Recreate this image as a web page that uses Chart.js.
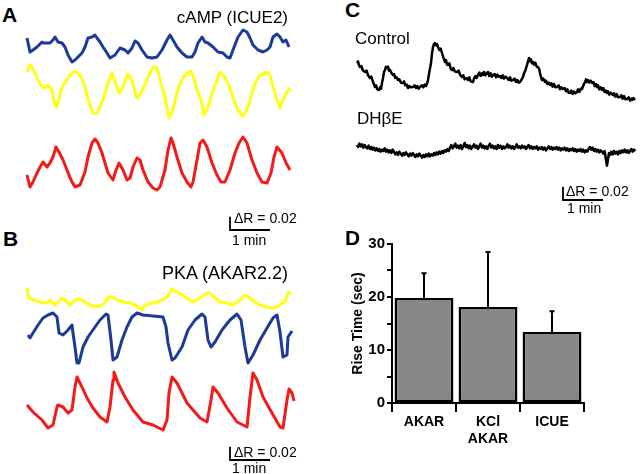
<!DOCTYPE html>
<html>
<head>
<meta charset="utf-8">
<script src="https://cdn.jsdelivr.net/npm/chart.js@4.4.1/dist/chart.umd.min.js"></script>
<style>
  html, body { margin: 0; padding: 0; background: #fff; }
  #fig { position: relative; width: 640px; height: 474px; overflow: hidden; background: #fff;
         font-family: 'Liberation Sans', Arial, Helvetica, sans-serif; color: #000; }
  #fig canvas { position: absolute; }
  .lbl { position: absolute; line-height: 1; white-space: nowrap; }
  .panel { font-size: 21px; font-weight: bold; }
  .name { font-size: 17px; }
  .bar { font-size: 14px; }
</style>
</head>
<body>
<div id="fig">
  <canvas id="panelA" width="280" height="220" style="left:20px;top:20px"></canvas>
  <canvas id="panelB" width="280" height="204" style="left:20px;top:270px"></canvas>
  <canvas id="panelC" width="290" height="170" style="left:350px;top:40px"></canvas>
  <canvas id="panelD" width="270" height="230" style="left:340px;top:228px"></canvas>

  <div class="lbl panel" style="left:2px;top:4px">A</div>
  <div class="lbl panel" style="left:3px;top:228px">B</div>
  <div class="lbl panel" style="left:345px;top:-1px">C</div>
  <div class="lbl panel" style="left:345px;top:227px">D</div>

  <div class="lbl name" style="right:352px;top:9px">cAMP (ICUE2)</div>
  <div class="lbl name" style="right:352px;top:264px;font-size:18px">PKA (AKAR2.2)</div>
  <div class="lbl name" style="left:355px;top:30px">Control</div>
  <div class="lbl name" style="left:357px;top:110px">DHβE</div>

  <div class="lbl bar" style="left:234px;top:211px">ΔR = 0.02</div>
  <div class="lbl bar" style="left:232px;top:233px">1 min</div>
  <div class="lbl bar" style="left:234px;top:445px">ΔR = 0.02</div>
  <div class="lbl bar" style="left:232px;top:461px">1 min</div>
  <div class="lbl bar" style="left:566px;top:184px">ΔR = 0.02</div>
  <div class="lbl bar" style="left:567px;top:201px">1 min</div>
</div>

<script>
// traces: [time (s), ΔR x 1000], each relative to its own lowest point
const camBlue = [[10.5,37.5],[15,16.5],[19.5,19.5],[25.5,24],[33,31.5],[34.5,30],[40.5,30],[45,30],[49.5,34.5],[52.5,39],[57,31.5],[63,30],[67.5,24],[72,12],[78,1.5],[82.5,4.5],[87,9],[93,15],[97.5,24],[102,37.5],[108,39],[112.5,42],[115.5,37.5],[120,31.5],[124.5,24],[130.5,15],[135,7.5],[142.5,12],[150,22.5],[157.5,19.5],[162,15],[168,22.5],[172.5,33],[177,30],[183,19.5],[190.5,9],[198,7.5],[205.5,9],[213,19.5],[220.5,34.5],[225,42],[229.5,34.5],[235.5,24],[243,15],[250.5,9],[258,9],[262.5,16.5],[267,30],[273,39],[277.5,31.5],[282,30],[289.5,24],[297,16.5],[304.5,15],[310.5,9],[315,7.5],[319.5,19.5],[327,39],[334.5,49.5],[340.5,46.5],[345,37.5],[349.5,27],[357,19.5],[364.5,16.5],[370.5,19.5],[375,24],[379.5,39],[385.5,43.5],[390,39],[394.5,31.5],[399,34.5],[403.5,24]];
const camYellow = [[10.5,70.5],[15,81],[18,78],[22.5,69],[27,58.5],[33,48],[37.5,46.5],[42,51],[48,43.5],[52.5,21],[55.5,18],[60,36],[64.5,51],[70.5,58.5],[75,66],[81,70.5],[85.5,70.5],[91.5,63],[97.5,48],[102,28.5],[109.5,9],[115.5,9],[120,18],[126,33],[132,54],[138,69],[141,61.5],[145.5,46.5],[148.5,39],[154.5,48],[159,61.5],[162,67.5],[168,58.5],[172.5,39],[175.5,31.5],[181.5,39],[187.5,51],[193.5,66],[199.5,78],[205.5,76.5],[210,58.5],[217.5,33],[223.5,1.5],[229.5,13.5],[234,33],[240,54],[247.5,66],[255,72],[259.5,66],[265.5,43.5],[273,24],[276,6],[280.5,13.5],[286.5,33],[292.5,51],[300,70.5],[304.5,66],[312,54],[319.5,33],[327,13.5],[334.5,4.5],[340.5,13.5],[346.5,33],[352.5,54],[360,66],[370.5,70.5],[375,66],[379.5,48],[385.5,28.5],[390,16.5],[394.5,28.5],[400.5,40.5],[405,46.5]];
const camRed = [[10.5,22.5],[15,4.5],[19.5,12],[25.5,25.5],[30,34.5],[34.5,42],[40.5,34.5],[45,40.5],[49.5,49.5],[54,64.5],[58.5,57],[64.5,45],[70.5,30],[76.5,15],[82.5,4.5],[90,7.5],[97.5,27],[102,49.5],[108,70.5],[112.5,76.5],[117,70.5],[123,55.5],[127.5,40.5],[132,25.5],[139.5,15],[144,30],[148.5,40.5],[154.5,30],[160.5,15],[165,18],[169.5,34.5],[175.5,48],[180,45],[184.5,30],[192,12],[199.5,3],[205.5,0],[210,4.5],[217.5,30],[222,60],[226.5,78],[229.5,70.5],[235.5,49.5],[243,25.5],[250.5,12],[256.5,4.5],[259.5,12],[265.5,45],[270,70.5],[274.5,75],[280.5,64.5],[288,40.5],[295.5,22.5],[301.5,12],[307.5,12],[315,30],[322.5,55.5],[328.5,70.5],[334.5,79.5],[340.5,70.5],[348,45],[355.5,25.5],[363,12],[370.5,10.5],[376.5,25.5],[381,49.5],[385.5,64.5],[393,55.5],[399,40.5],[405,30]];

const pkaYellow = [[10.5,33],[12,19.5],[19.5,15],[30,12],[40.5,10.5],[45,15],[52.5,7.5],[57,12],[63,18],[70.5,12],[75,7.5],[82.5,15],[90,16.5],[97.5,12],[105,7.5],[112.5,4.5],[120,6],[127.5,10.5],[132,19.5],[138,19.5],[145.5,15],[154.5,12],[165,10.5],[175.5,6],[183,0],[187.5,7.5],[198,10.5],[205.5,12],[213,15],[220.5,19.5],[228,31.5],[235.5,27],[243,22.5],[250.5,18],[259.5,12],[270,18],[280.5,25.5],[285,25.5],[292.5,18],[300,12],[310.5,10.5],[319.5,7.5],[330,15],[337.5,22.5],[345,18],[352.5,12],[360,7.5],[370.5,4.5],[378,3],[385.5,4.5],[393,10.5],[397.5,12],[402,25.5],[406.5,27]];
const pkaBlue = [[12,42],[15,37.5],[19.5,45],[27,57],[34.5,67.5],[42,72],[49.5,75],[55.5,69],[58.5,45],[64.5,42],[72,49.5],[78,57],[79.5,45],[82.5,24],[85.5,0],[88.5,0],[94.5,24],[102,39],[112.5,54],[120,64.5],[129,73.5],[132,72],[136.5,34.5],[139.5,4.5],[145.5,9],[153,34.5],[160.5,54],[168,69],[175.5,75],[184.5,72],[199.5,70.5],[214.5,69],[219,54],[222,30],[228,4.5],[232.5,7.5],[243,24],[252,49.5],[262.5,64.5],[273,73.5],[277.5,69],[282,34.5],[286.5,24],[292.5,31.5],[303,49.5],[315,64.5],[325.5,73.5],[331.5,64.5],[337.5,24],[342,0],[349.5,12],[360,34.5],[370.5,52.5],[379.5,67.5],[385.5,72],[390,46.5],[394.5,9],[400.5,12],[402,39],[408,48]];
const pkaRed = [[10.5,37.5],[19.5,27],[33,15],[42,3],[49.5,7.5],[55.5,34.5],[57,37.5],[64.5,34.5],[72,25.5],[78,30],[82.5,64.5],[85.5,79.5],[93,64.5],[100.5,48],[109.5,33],[120,19.5],[130.5,12],[135,34.5],[139.5,75],[141,87],[147,70.5],[157.5,49.5],[169.5,30],[184.5,12],[199.5,7.5],[214.5,0],[220.5,15],[223.5,55.5],[228,79.5],[235.5,70.5],[250.5,40.5],[270,18],[280.5,12],[286.5,45],[289.5,64.5],[297,55.5],[310.5,33],[325.5,12],[340.5,4.5],[345,49.5],[349.5,85.5],[355.5,75],[364.5,49.5],[378,25.5],[390,4.5],[394.5,3],[400.5,45],[403.5,61.5],[408,55.5],[411,43.5]];

const ctrlTrace = [[10.5,55.5],[12,58],[13.5,52],[15,49.5],[17,51],[19,45],[22.5,42],[25,44],[27,37],[30,33],[32,35],[34.5,27],[37.5,19.5],[39,22],[41,16],[43.5,15],[45,19],[46.5,17],[48,25.5],[49.5,33],[51,42],[52.5,45],[54,50],[55.5,48],[57,50],[58.5,44],[60,45],[62,41],[64.5,37.5],[66,39],[68,33],[70,34],[72,30],[74,31],[76.5,26],[79.5,25.5],[81,28],[83,22],[85,23],[87,18],[89,21],[91,19],[94.5,19.5],[97,22],[99,18],[101,21],[103,17],[105,19.5],[108,22],[110,19],[112,23],[114,21],[116,26],[117,30],[119,42],[121.5,55.5],[123,70],[124.5,79.5],[126,84],[127.5,85.5],[129,82],[130.5,84],[132,79.5],[134,75],[136,77],[138,70.5],[140,64],[142.5,57],[144,60],[145.5,53],[147,52.5],[149,55],[151,47],[153,45],[155,48],[157,43],[160.5,42],[163,44],[165,38],[168,34.5],[170,37],[172,31],[175,33],[177,30],[179,34],[181,28],[184.5,27],[186,32],[188,36],[190,33],[192,37.5],[194,41],[196,36],[198,40],[199.5,37.5],[201,42],[203,37],[205,40],[207,42],[209,36],[211,40],[213,35],[214.5,37.5],[217,39],[219,34],[221,38],[223,35],[225,36],[227,33],[229,37],[231,32],[233,35],[235.5,33],[238,30],[240,34],[242,29],[244.5,30],[247,32],[249,27],[251,30],[253,26],[255,27],[257,30],[259.5,34.5],[261,40],[263,44],[265.5,52.5],[267,58],[268.5,63],[270,58],[271.5,61],[273,55],[274.5,57],[276,53],[278,56],[280,50],[282,49.5],[284,46],[285,40],[286.5,34.5],[288,30],[290,32],[292.5,27],[294,29],[296,24],[298,26],[300,22.5],[302,25],[304,20],[306,24],[308,19],[310.5,19.5],[313,22],[315,16],[317,19],[319.5,16.5],[322,18],[324,13],[326,16],[328,11],[330,10.5],[332,14],[334,9],[336,13],[338,10],[340.5,12],[342,16],[344,12],[346,17],[348,16.5],[350,22],[352.5,27],[354,31],[355.5,27],[357,30],[359,26],[361,29],[363,25.5],[365,27],[367,21],[369,24],[370.5,19.5],[372,22],[374,16],[376,19],[378,15],[380,18],[382,12],[384,14],[385.5,10.5],[387,13],[389,8],[391,11],[394.5,7.5],[396,10],[398,5],[400,9],[402,4],[405,4.5],[407,7],[409,2],[411,6],[413,1],[415.5,1.5],[418,4],[420,-1],[422,2],[423,0],[425,3],[427.5,0]];
const dhbeTrace = [[10.5,33],[12,30],[14,35],[16,31],[18,34],[20,29],[22,33],[24,30],[26,28],[28,32],[30,27],[32,30],[34,26],[36,29],[38,25],[40,28],[42,24],[44,27],[46,23],[48,26],[50,24],[52,28],[54,23],[56,26],[58,22],[60,25],[62,21],[64,26],[66,23],[68,19],[70,22],[72,18],[74,23],[76,20],[78,17],[80,21],[82,18],[84,22],[86,19],[88,16],[90,20],[92,17],[94,21],[96,18],[98,15],[100,19],[102,16],[104,20],[106,17],[108,14],[110,18],[112,15],[114,19],[116,16],[118,20],[120,16],[122,19],[124,17],[126,21],[128,18],[130,22],[132,19],[134,23],[136,20],[138,24],[140,21],[142,25],[144,23],[146,27],[148,24],[150,29],[152,33],[154,28],[156,31],[158,35],[160,29],[162,32],[164,28],[166,33],[168,27],[170,31],[172,36],[174,30],[176,33],[178,28],[180,32],[182,27],[184,31],[186,34],[188,29],[190,32],[192,27],[194,31],[196,35],[198,29],[200,32],[202,28],[204,31],[206,27],[208,32],[210,35],[212,29],[214,32],[216,28],[218,31],[220,27],[222,33],[224,29],[226,32],[228,27],[230,31],[232,28],[234,30],[236,34],[238,29],[240,32],[242,28],[244,31],[246,27],[248,30],[250,34],[252,29],[254,31],[256,28],[258,32],[260,29],[262,31],[264,27],[266,30],[268,33],[270,28],[272,31],[274,27],[276,30],[278,28],[280,31],[282,26],[284,29],[286,27],[288,30],[290,26],[292,29],[294,25],[296,28],[298,31],[300,27],[302,30],[304,26],[306,29],[308,27],[310,30],[312,26],[314,29],[316,25],[318,28],[320,26],[322,29],[324,25],[326,28],[328,24],[330,27],[332,25],[334,28],[336,24],[338,27],[340,23],[342,26],[344,24],[346,27],[348,23],[350,26],[352,22],[354,25],[356,23],[358,27],[360,30],[362,26],[364,29],[366,24],[368,27],[370,23],[372,26],[374,22],[376,25],[378,23],[380,20],[382,24],[384,10],[385.5,2],[387,12],[388.5,21],[390,18],[392,23],[394,19],[396,24],[398,20],[400,23],[402,19],[404,24],[406,21],[408,25],[410,22],[412,26],[414,22],[416,25],[418,21],[420,24],[422,27],[424,23],[426,26],[428,24]];

// panel D
const riseLabels = ['AKAR', ['KCl', 'AKAR'], 'ICUE'];
const riseMeans = [19.8, 18.1, 13.4];
const riseSD = [4.7, 10.4, 3.9];
const riseTicks = [0, 10, 20, 30];

const BAR_DR = 20;   // 0.02 ΔR
const BAR_T = 60;    // 1 min

const BLUE = '#1d3a9a';
const YELLOW = '#ffff14';
const RED = '#f41a1a';

function trace(points, dy, color, width) {
  return {
    data: points.map(p => ({ x: p[0], y: p[1] + dy })),
    borderColor: color,
    borderWidth: width,
    pointRadius: 0,
    borderJoinStyle: 'round',
    fill: false
  };
}

function scaleBar(t0, v0) {
  return {
    data: [{ x: t0, y: v0 + BAR_DR }, { x: t0, y: v0 }, { x: t0 + BAR_T, y: v0 }],
    borderColor: '#000',
    borderWidth: 1.8,
    pointRadius: 0,
    fill: false
  };
}

function traceChart(id, xMax, yMax, datasets) {
  new Chart(document.getElementById(id), {
    type: 'line',
    data: { datasets: datasets },
    options: {
      responsive: false,
      animation: false,
      layout: { padding: 0 },
      scales: {
        x: { type: 'linear', display: false, min: 0, max: xMax },
        y: { type: 'linear', display: false, min: 0, max: yMax }
      },
      elements: { line: { tension: 0 } },
      plugins: { legend: { display: false }, tooltip: { enabled: false } }
    }
  });
}

traceChart('panelA', 420, 330, [
  trace(camBlue, 265.5, BLUE, 3),
  trace(camYellow, 181.5, YELLOW, 3),
  trace(camRed, 75, RED, 3),
  scaleBar(315, 15)
]);

traceChart('panelB', 420, 306, [
  trace(pkaYellow, 246, YELLOW, 3),
  trace(pkaBlue, 166.5, BLUE, 3),
  trace(pkaRed, 66, RED, 3),
  scaleBar(315, 21)
]);

traceChart('panelC', 435, 255, [
  trace(ctrlTrace, 165, '#000', 2.5),
  trace(dhbeTrace, 64.5, '#000', 2.5),
  scaleBar(319.5, 15)
]);

// error bars drawn from the same scales as the bars
const errorBars = {
  id: 'errorBars',
  afterDatasetsDraw(chart) {
    const ctx = chart.ctx;
    const ys = chart.scales.y;
    const meta = chart.getDatasetMeta(0);
    ctx.save();
    ctx.strokeStyle = '#000';
    ctx.lineWidth = 2;
    meta.data.forEach((bar, i) => {
      const top = ys.getPixelForValue(riseMeans[i]);
      const hi = ys.getPixelForValue(riseMeans[i] + riseSD[i]);
      ctx.beginPath();
      ctx.moveTo(bar.x, top);
      ctx.lineTo(bar.x, hi);
      ctx.moveTo(bar.x - 2.5, hi);
      ctx.lineTo(bar.x + 2.5, hi);
      ctx.stroke();
    });
    ctx.restore();
  }
};

const boldFont = { family: "'Liberation Sans', Arial, Helvetica, sans-serif", size: 14, weight: 'bold' };
const tickFont = { family: "'Liberation Sans', Arial, Helvetica, sans-serif", size: 15, weight: 'bold' };

new Chart(document.getElementById('panelD'), {
  type: 'bar',
  data: {
    labels: riseLabels,
    datasets: [{
      data: riseMeans,
      backgroundColor: '#888888',
      borderColor: '#000',
      borderWidth: 2.5,
      borderSkipped: false,
      barPercentage: 0.92,
      categoryPercentage: 1
    }]
  },
  options: {
    responsive: false,
    animation: false,
    layout: { padding: { left: 10, top: 16, right: 26, bottom: 3 } },
    scales: {
      x: {
        grid: { offset: true, drawOnChartArea: false, tickLength: 9, color: '#000', lineWidth: 2 },
        border: { color: '#000', width: 2 },
        ticks: { font: boldFont, color: '#000', padding: 2 },
        afterFit: s => { s.height = 52; }
      },
      y: {
        min: 0,
        max: 30,
        afterBuildTicks: s => {
          s.ticks = [0, 5, 10, 15, 20, 25, 30].map(v => ({ value: v }));
        },
        ticks: {
          font: tickFont,
          color: '#000',
          padding: 2,
          callback: v => riseTicks.includes(v) ? String(v) : ''
        },
        grid: { drawOnChartArea: false, tickLength: 5, color: '#000', lineWidth: 2 },
        border: { color: '#000', width: 2 },
        title: { display: true, text: 'Rise Time (sec)', font: boldFont, color: '#000', padding: 0 },
        afterFit: s => { s.width = 42; }
      }
    },
    plugins: { legend: { display: false }, tooltip: { enabled: false } }
  },
  plugins: [errorBars]
});
</script>
</body>
</html>
